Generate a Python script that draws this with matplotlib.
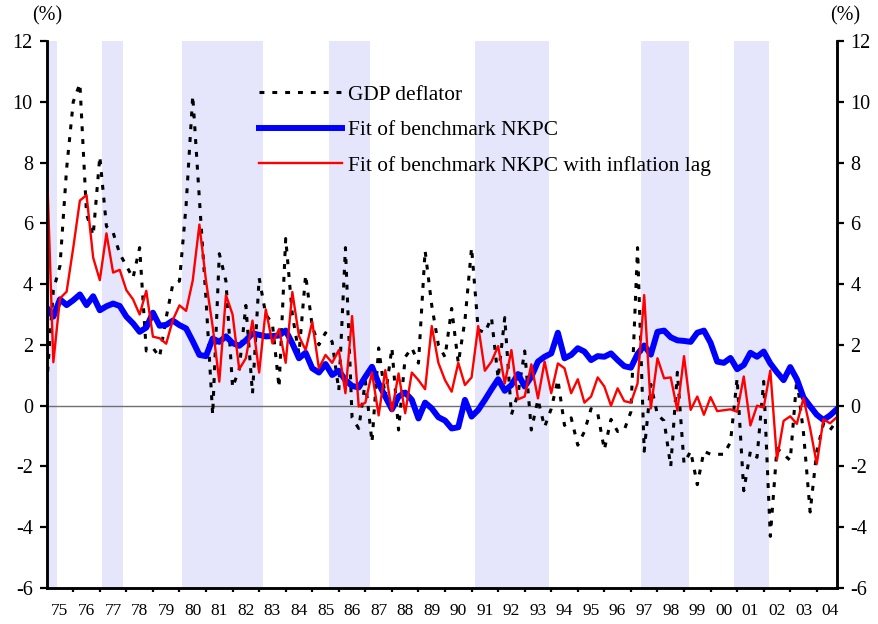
import numpy as np
import matplotlib
matplotlib.use("Agg")
import matplotlib.pyplot as plt

plt.rcParams['font.family'] = ['Liberation Serif', 'DejaVu Serif']
plt.rcParams['axes.unicode_minus'] = False

# quarterly, 1975Q1 - 2004Q4 (%)
gdp_deflator = [0.7, 3.8, 4.6, 7.8, 10.0, 10.6, 6.3, 5.6, 8.2, 5.9,
                5.7, 5.0, 4.6, 4.2, 5.2, 1.8, 1.9, 1.6, 2.9, 4.0,
                4.1, 6.6, 10.2, 6.8, 3.5, -0.3, 5.0, 4.1, 0.6, 1.2,
                3.3, 0.4, 4.2, 3.0, 2.7, 0.6, 5.5, 3.0, 1.7, 4.3,
                2.6, 2.0, 2.4, 2.1, 0.5, 5.2, -0.4, -0.75, 0.8, -1.2,
                1.9, 0.3, 1.9, -0.8, 1.6, 1.9, 1.4, 5.1, 3.3, 2.0,
                1.6, 3.2, 1.4, 2.8, 5.2, 2.5, 2.4, 2.9, 0.9, 2.9,
                -0.3, 0.4, 1.8, -0.8, 0.2, -0.7, -0.1, 0.85, -0.65, -0.4,
                -1.3, -0.85, -0.1, -0.25, -1.45, -0.45, -0.85, -0.8, -0.2, 5.2,
                -1.5, 0.7, -0.3, -0.5, -2.0, 1.1, -1.9, -1.5, -2.6, -1.5,
                -1.6, -1.6, -1.6, -1.2, 0.9, -2.8, -1.5, -1.7, 0.8, -4.3,
                -1.4, -1.6, -1.8, 0.9, -0.9, -3.5, -1.5, -0.6, -0.8, -0.5]

fit_nkpc = [3.23, 2.93, 3.5, 3.31, 3.47, 3.66, 3.31, 3.6, 3.14, 3.27,
            3.36, 3.28, 2.93, 2.71, 2.43, 2.57, 3.06, 2.63, 2.66, 2.8,
            2.65, 2.54, 2.12, 1.67, 1.63, 2.21, 2.1, 2.28, 2.06, 1.97,
            2.15, 2.38, 2.33, 2.28, 2.29, 2.31, 2.47, 2.05, 1.56, 1.74,
            1.23, 1.09, 1.37, 1.01, 1.15, 0.84, 0.65, 0.6, 0.95, 1.28,
            0.73, 0.3, -0.12, 0.3, 0.43, 0.19, -0.42, 0.1, -0.09, -0.38,
            -0.49, -0.75, -0.71, 0.19, -0.36, -0.14, 0.19, 0.54, 0.87, 0.49,
            0.68, 1.04, 0.63, 0.95, 1.45, 1.61, 1.72, 2.4, 1.56, 1.67,
            1.89, 1.78, 1.5, 1.63, 1.61, 1.72, 1.5, 1.3, 1.25, 1.7,
            1.98, 1.68, 2.43, 2.47, 2.25, 2.15, 2.13, 2.1, 2.4, 2.47,
            2.07, 1.45, 1.41, 1.57, 1.2, 1.34, 1.74, 1.61, 1.78, 1.39,
            1.1, 0.84, 1.27, 0.87, 0.27, -0.02, -0.3, -0.47, -0.32, -0.12]

fit_nkpc_lag = [8.06, 1.43, 3.53, 3.75, 5.2, 6.75, 6.93, 4.87, 4.13, 5.67,
                4.38, 4.47, 3.8, 3.5, 3.0, 3.78, 2.27, 2.22, 2.04, 2.82,
                3.3, 3.12, 4.12, 5.96, 4.1, 2.6, 0.79, 3.64, 3.0, 1.2,
                1.56, 2.8, 1.09, 3.17, 2.05, 2.52, 1.41, 3.74, 2.29, 1.83,
                2.76, 1.23, 1.67, 1.41, 1.83, 0.41, 2.95, -0.03, 0.1, 1.09,
                -0.32, 1.17, -0.18, 1.06, -0.25, 1.09, 0.84, 0.54, 2.62, 1.41,
                0.84, 0.46, 1.41, 0.68, 0.93, 2.62, 1.15, 1.45, 1.96, 0.73,
                1.83, 0.21, 0.3, 1.36, 0.24, 1.45, 0.41, 1.39, 1.23, 0.41,
                0.87, 0.1, 0.3, 0.93, 0.63, 0.0, 0.57, 0.15, 0.1, 0.73,
                3.64, -0.09, 1.56, 0.9, 0.93, -0.16, 1.63, -0.14, 0.3, -0.3,
                0.28, -0.18, -0.15, -0.12, -0.2, 0.96, -0.65, 0.0, -0.06, 1.16,
                -1.77, -0.5, -0.35, -0.6, 0.25, -0.75, -1.92, -0.45, -0.58, -0.38]

year_labels = ['75', '76', '77', '78', '79', '80', '81', '82', '83', '84',
               '85', '86', '87', '88', '89', '90', '91', '92', '93', '94',
               '95', '96', '97', '98', '99', '00', '01', '02', '03', '04']

# recession periods (shaded)
rec_start = [1975.0, 1977.07, 1980.09, 1985.63, 1991.13, 1997.38, 2000.88]
rec_end = [1975.38, 1977.86, 1983.13, 1987.17, 1993.9, 1999.18, 2002.2]

labels = ['GDP deflator', 'Fit of benchmark NKPC',
          'Fit of benchmark NKPC with inflation lag']

n = len(gdp_deflator)
t = 1975 + np.arange(n) / 4.0

fig = plt.figure(figsize=(8.79, 6.24), dpi=100)
ax = fig.add_axes([46.7/879, 36/624, 790/879, 547/624])

for a, b in zip(rec_start, rec_end):
    ax.axvspan(a, b, color='#e5e5fb', lw=0, zorder=0)
ax.axhline(0, color='#707070', lw=1.0, zorder=1)

ax.plot(t, gdp_deflator, color='black', lw=2.2, dashes=(1.6, 2.6),
        label=labels[0], zorder=2)
ax.plot(t, fit_nkpc, color='#0000ff', lw=4.3, label=labels[1], zorder=3,
        solid_joinstyle='round')
ax.plot(t, fit_nkpc_lag, color='#ff0000', lw=1.7, label=labels[2], zorder=4)

ax.set_xlim(t[0], t[-1])
ax.set_ylim(-6, 12)
ax.set_yticks(np.arange(-6, 13, 2))

years = np.arange(1976, 2005)
ax.set_xticks(years)
ax.set_xticklabels([])
ax.set_xticks(np.arange(1975, 2005) + 0.5, minor=True)
ax.set_xticklabels(year_labels, minor=True)
ax.tick_params(axis='x', which='major', direction='out', length=3, width=1.6)
ax.tick_params(axis='x', which='minor', length=0, labelsize=12.5, pad=11)
ax.tick_params(axis='y', direction='out', length=5, width=1.6, labelsize=14.5, pad=5)

ax2 = ax.twinx()
ax2.set_ylim(-6, 12)
ax2.set_yticks(np.arange(-6, 13, 2))
ax2.tick_params(axis='y', direction='out', length=5, width=1.6, labelsize=14.5, pad=5)

for a in (ax, ax2):
    a.spines['top'].set_visible(False)
    for s in ('left', 'right', 'bottom'):
        a.spines[s].set_linewidth(1.8)
        a.spines[s].set_color('black')

fig.text(47.5/879, 1 - 16/624, '(%)', ha='center', va='center', fontsize=14.5)
fig.text(845/879, 1 - 16/624, '(%)', ha='center', va='center', fontsize=14.5)

ax.legend(loc='upper left', bbox_to_anchor=(259/879, 1 - 85/624),
          bbox_transform=fig.transFigure, frameon=False, fontsize=15.4,
          handlelength=3.9, handletextpad=0.25, labelspacing=0.72,
          borderpad=0, borderaxespad=0)

fig.savefig('out.png', dpi=100)
